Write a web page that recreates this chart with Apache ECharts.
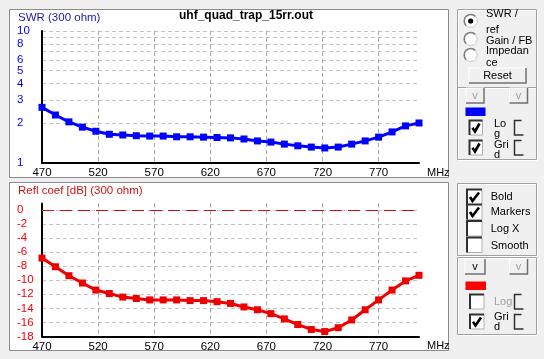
<!DOCTYPE html>
<html><head><meta charset="utf-8">
<script src="https://cdn.jsdelivr.net/npm/echarts@6/dist/echarts.min.js"></script>
<style>html,body{margin:0;padding:0;background:#f0f0f0;}#c{width:544px;height:359px;}</style>
</head><body><div id="c"></div>
<script>
const freqs = [470,482,494,506,518,530,542,554,566,578,590,602,614,626,638,650,662,674,686,698,710,722,734,746,758,770,782,794,806];
const swr = [2.64,2.31,2.05,1.87,1.74,1.65,1.63,1.61,1.60,1.60,1.58,1.58,1.57,1.56,1.55,1.52,1.47,1.44,1.39,1.35,1.32,1.30,1.32,1.39,1.47,1.57,1.72,1.91,2.01];
const reflDb = [-6.85,-8.09,-9.36,-10.4,-11.4,-11.9,-12.4,-12.6,-12.8,-12.8,-12.8,-12.9,-12.9,-13.05,-13.3,-13.8,-14.2,-14.75,-15.5,-16.3,-17.0,-17.3,-16.75,-15.65,-14.2,-12.8,-11.4,-10.1,-9.3];
const xTicks = [470,520,570,620,670,720,770];
const swrTicks = [1,2,3,4,5,6,8,10];
const swrGrid = [1,2,3,4,5,6,7,8,9,10];
const dbTicks = [-18,-16,-14,-12,-10,-8,-6,-4,-2,0];
const refLine = [0];

const FONT = '"Liberation Sans", Arial, sans-serif';
const chart = echarts.init(document.getElementById('c'), null, {renderer:'canvas', width:544, height:359});

function txt(x, y, s, o) {
  return {type:'text', x:x, y:y, style:Object.assign({text:s, font:'11px ' + FONT, fill:'#000', textAlign:'left', textVerticalAlign:'middle'}, o || {})};
}
function checkbox(x, y, w, h, checked) {
  const e = [
    {type:'rect', shape:{x:x, y:y, width:w, height:h}, style:{fill:'#fff', stroke:'#b0b0b0', lineWidth:1}},
    {type:'polyline', shape:{points:[[x, y + h], [x, y], [x + w, y]]}, style:{stroke:'#303030', lineWidth:2, fill:null}}
  ];
  if (checked) e.push({type:'polyline', shape:{points:[[x + 3, y + h / 2], [x + 5.5, y + h - 3.5], [x + w - 3, y + 3]]}, style:{stroke:'#000', lineWidth:2.6, fill:null}});
  return e;
}
function bracket(x, y, h) {
  return {type:'polyline', shape:{points:[[x + 7, y], [x, y], [x, y + h], [x + 9, y + h]]}, style:{stroke:'#303030', lineWidth:1.5, fill:null}};
}
function button(x, y, w, h, label, color) {
  return [
    {type:'rect', shape:{x:x, y:y, width:w, height:h}, style:{fill:'#f0f0f0', stroke:null}},
    {type:'polyline', shape:{points:[[x, y + h], [x, y], [x + w, y]]}, style:{stroke:'#ffffff', lineWidth:1, fill:null}},
    {type:'polyline', shape:{points:[[x + w, y], [x + w, y + h], [x, y + h]]}, style:{stroke:'#707070', lineWidth:1.5, fill:null}},
    txt(x + w / 2, y + h / 2, label, {textAlign:'center', fill:color})
  ];
}
function groupBox(x, y, w, h) {
  return [
    {type:'rect', shape:{x:x + 1, y:y + 1, width:w, height:h}, style:{fill:null, stroke:'#ffffff', lineWidth:1}},
    {type:'rect', shape:{x:x, y:y, width:w, height:h}, style:{fill:null, stroke:'#a0a0a0', lineWidth:1}}
  ];
}
function radio(cx, cy, sel) {
  const e = [
    {type:'circle', shape:{cx:cx, cy:cy, r:6.5}, style:{fill:'#fff', stroke:'#c8c8c8', lineWidth:1}},
    {type:'arc', shape:{cx:cx, cy:cy, r:6.5, startAngle:Math.PI * 0.75, endAngle:Math.PI * 1.75}, style:{stroke:'#808080', lineWidth:1.5, fill:null}}
  ];
  if (sel) e.push({type:'circle', shape:{cx:cx, cy:cy, r:2.6}, style:{fill:'#000'}});
  return e;
}

let g = [];
g.push({type:'rect', z:-10, shape:{x:9.5, y:9.5, width:439, height:168}, style:{fill:'#fff', stroke:'#8a8a8a', lineWidth:1}});
g.push({type:'rect', z:-10, shape:{x:9.5, y:182.5, width:439, height:168}, style:{fill:'#fff', stroke:'#8a8a8a', lineWidth:1}});
g.push(txt(427, 173, 'MHz'));
g.push(txt(427, 346, 'MHz'));
g = g.concat(groupBox(457.5, 9.5, 79, 78), groupBox(457.5, 87.5, 79, 72), groupBox(457.5, 183.5, 79, 72), groupBox(457.5, 257.5, 79, 77));
g = g.concat(radio(470.7, 21, true), radio(470.7, 39, false), radio(470.7, 55, false));
g.push(txt(486, 14, 'SWR /'), txt(486, 30, 'ref'), txt(486, 40.5, 'Gain / FB'), txt(486, 51, 'Impedan'), txt(486, 63, 'ce'));
g = g.concat(button(469, 68, 57, 15, 'Reset', '#000'));
g = g.concat(button(466, 88, 18, 15, 'v', '#a0a0a0'), button(509.5, 88, 18, 15, 'v', '#a0a0a0'));
g.push({type:'rect', shape:{x:465.5, y:107.5, width:20, height:8.5}, style:{fill:'#0000ff'}});
g = g.concat(checkbox(469.5, 120.5, 13, 14.5, true), checkbox(469.5, 140.5, 13, 14.5, true));
g.push(txt(494, 124, 'Lo'), txt(494, 134, 'g'), txt(494, 145, 'Gri'), txt(494, 155, 'd'));
g.push(bracket(514.5, 120.5, 14.5), bracket(514.5, 140.5, 14.5));
g = g.concat(checkbox(467, 189.5, 15, 15, true), checkbox(467, 204.5, 15, 15, true), checkbox(467, 221, 15, 15, false), checkbox(467, 237.5, 15, 15, false));
g.push(txt(490.7, 197, 'Bold'), txt(490.7, 212, 'Markers'), txt(490.7, 228.5, 'Log X'), txt(490.7, 246, 'Smooth'));
g = g.concat(button(465, 259, 20, 15, 'v', '#000'), button(509.5, 259, 18, 15, 'v', '#a0a0a0'));
g.push({type:'rect', shape:{x:465.5, y:281.5, width:20.5, height:8.5}, style:{fill:'#ff0000'}});
g = g.concat(checkbox(470, 294.5, 14, 14.5, false), checkbox(470, 314.5, 14, 14.5, true));
g.push(txt(494, 301.5, 'Log', {fill:'#a0a0a0'}), txt(494, 317, 'Gri'), txt(494, 327, 'd'));
g.push(bracket(514.5, 294.5, 14.5), bracket(514.5, 314.5, 14.5));

function xAxisFor(i) {
  return {
    type:'value', gridIndex:i, min:470, max:806,
    axisLine:{show:true, onZero:false, lineStyle:{color:'#000', width:2}},
    axisTick:{show:false, customValues:xTicks},
    axisLabel:{customValues:xTicks, color:'#000', fontFamily:FONT, fontSize:11.5, margin:4},
    splitLine:{show:true, lineStyle:{color:'#a8a8a8', type:[4,3], width:1}}
  };
}

const option = {
  animation:false,
  backgroundColor:'#f0f0f0',
  title:[
    {text:'SWR (300 ohm)', left:18, top:12, padding:0, textStyle:{color:'#1a1aa8', fontSize:11.5, fontWeight:'normal', fontFamily:FONT}},
    {text:'uhf_quad_trap_15rr.out', left:179, top:10, padding:0, textStyle:{color:'#000', fontSize:12, fontWeight:'bold', fontFamily:FONT}},
    {text:'Refl coef [dB] (300 ohm)', left:18, top:184.5, padding:0, textStyle:{color:'#d01010', fontSize:11.5, fontWeight:'normal', fontFamily:FONT}}
  ],
  grid:[
    {left:42, top:31, width:377, height:132},
    {left:42, top:203.5, width:377, height:133}
  ],
  xAxis:[xAxisFor(0), xAxisFor(1)],
  yAxis:[
    {type:'log', logBase:10, gridIndex:0, min:1, max:10,
     axisLine:{show:true, onZero:false, lineStyle:{color:'#000', width:2}},
     axisTick:{show:false, customValues:swrGrid},
     axisLabel:{customValues:swrTicks, color:'#0000ff', align:'left', margin:25, fontFamily:FONT, fontSize:11.5},
     splitLine:{show:true, lineStyle:{color:'#c4c4c4', type:[4,3], width:1}}},
    {type:'value', gridIndex:1, min:-18, max:0.9,
     axisLine:{show:true, onZero:false, lineStyle:{color:'#000', width:2}},
     axisTick:{show:false, customValues:dbTicks},
     axisLabel:{customValues:dbTicks, color:'#ff0000', align:'left', margin:25, fontFamily:FONT, fontSize:11.5},
     splitLine:{show:true, lineStyle:{color:'#c4c4c4', type:[4,3], width:1}}}
  ],
  graphic:{elements:g},
  series:[
    {type:'line', xAxisIndex:0, yAxisIndex:0, data:freqs.map((f, i) => [f, swr[i]]),
     symbol:'rect', symbolSize:7, showSymbol:true, lineStyle:{color:'#0000ff', width:3}, itemStyle:{color:'#0000ff'}},
    {type:'line', xAxisIndex:1, yAxisIndex:1, data:freqs.map((f, i) => [f, reflDb[i]]),
     symbol:'rect', symbolSize:7, showSymbol:true, lineStyle:{color:'#ee0000', width:3}, itemStyle:{color:'#ee0000'},
     markLine:{silent:true, symbol:'none', label:{show:false},
       lineStyle:{color:'#d01010', type:[12,6], width:1.2},
       data:refLine.map(v => ({yAxis:v}))}}
  ]
};
chart.setOption(option);
</script></body></html>
